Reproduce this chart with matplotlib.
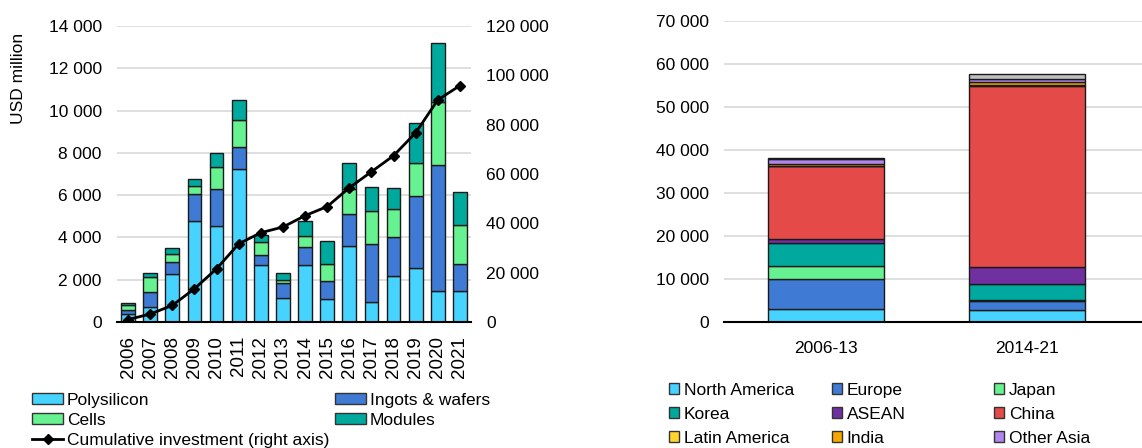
import matplotlib
matplotlib.use("Agg")
import matplotlib.pyplot as plt
import numpy as np
from matplotlib.patches import Patch
from matplotlib.lines import Line2D

plt.rcParams["font.family"] = ["Liberation Sans", "DejaVu Sans"]
plt.rcParams["font.size"] = 12.5

# ---- left panel: investment by segment, USD million ----
years = ["2006", "2007", "2008", "2009", "2010", "2011", "2012", "2013",
         "2014", "2015", "2016", "2017", "2018", "2019", "2020", "2021"]
polysilicon = [400, 720, 2280, 4790, 4540, 7230, 2680, 1150,
               2680, 1090, 3590, 930, 2160, 2540, 1460, 1460]
wafers = [180, 700, 540, 1260, 1740, 1050, 500, 680,
          860, 860, 1540, 2770, 1860, 3430, 5940, 1300]
cells = [240, 690, 380, 380, 1060, 1280, 580, 150,
         550, 790, 1180, 1560, 1300, 1560, 3010, 1820]
modules = [90, 220, 280, 310, 630, 960, 350, 350,
           670, 1100, 1230, 1130, 1030, 1890, 2770, 1550]
cumulative = [1000, 3240, 6750, 13500, 21600, 31700, 36200, 38500,
              43100, 46800, 54400, 60900, 67400, 76700, 90000, 95800]

# ---- right panel: investment by region, USD million ----
periods = ["2006-13", "2014-21"]
regions = ["North America", "Europe", "Japan", "Korea", "ASEAN", "China",
           "Latin America", "India", "Other Asia", "Rest of world"]
region_vals = {
    "North America": [3100, 2800],
    "Europe": [6800, 2100],
    "Japan": [3200, 300],
    "Korea": [5300, 3700],
    "ASEAN": [900, 3900],
    "China": [16900, 42100],
    "Latin America": [100, 300],
    "India": [500, 700],
    "Other Asia": [1100, 500],
    "Rest of world": [300, 1300],
}

seg_colors = {"Polysilicon": "#47D3FF", "Ingots & wafers": "#3F7AD4",
              "Cells": "#67F292", "Modules": "#00A99D"}
reg_colors = {"North America": "#47D3FF", "Europe": "#3F7AD4", "Japan": "#67F292",
              "Korea": "#00A99D", "ASEAN": "#7030A0", "China": "#E34A48",
              "Latin America": "#FFD52E", "India": "#F5A800",
              "Other Asia": "#B085EE", "Rest of world": "#BFBFBF"}
GRID = "#D9D9D9"

fig = plt.figure(figsize=(11.42, 4.48), dpi=100)

# left chart
ax = fig.add_axes([0.1025, 0.2812, 0.3099, 0.661])
x = np.arange(len(years))
bottom = np.zeros(len(years))
segs = [("Polysilicon", polysilicon), ("Ingots & wafers", wafers),
        ("Cells", cells), ("Modules", modules)]
for name, vals in segs:
    ax.bar(x, vals, 0.62, bottom=bottom, color=seg_colors[name],
           edgecolor="#1a1a1a", linewidth=1.0, zorder=2)
    bottom += np.array(vals)
ax.set_xlim(-0.5, len(years) - 0.5)
ax.set_ylim(0, 14000)
ax.set_yticks(range(0, 14001, 2000))
ax.set_yticklabels([f"{v:,}".replace(",", " ") for v in range(0, 14001, 2000)])
ax.set_xticks(x)
ax.set_xticklabels(years, rotation=90, fontsize=13.5)
ax.grid(axis="y", color=GRID, lw=1.2, zorder=0)
for s in ("top", "left", "right"):
    ax.spines[s].set_visible(False)
ax.spines["bottom"].set_linewidth(1.5)
ax.tick_params(axis="y", length=0, pad=11)
ax.tick_params(axis="x", length=0, pad=10)

ax2 = ax.twinx()
ax2.plot(x, cumulative, color="black", lw=2, marker="D", markersize=5, zorder=4)
ax2.set_ylim(0, 120000)
ax2.set_yticks(range(0, 120001, 20000))
ax2.set_yticklabels([f"{v:,}".replace(",", " ") for v in range(0, 120001, 20000)])
ax2.tick_params(axis="y", length=0, pad=11)
for s in ax2.spines.values():
    s.set_visible(False)

fig.text(19 / 1142, 1 - 78 / 448, "USD million", rotation=90,
         ha="center", va="center", fontsize=12.5)

handles = [Patch(facecolor=seg_colors["Polysilicon"], edgecolor="#333333", label="Polysilicon"),
           Patch(facecolor=seg_colors["Cells"], edgecolor="#333333", label="Cells"),
           Line2D([0], [0], color="black", lw=2, marker="D", markersize=5,
                  label="Cumulative investment (right axis)"),
           Patch(facecolor=seg_colors["Ingots & wafers"], edgecolor="#333333", label="Ingots & wafers"),
           Patch(facecolor=seg_colors["Modules"], edgecolor="#333333", label="Modules")]
fig.legend(handles=handles, ncol=2, loc="upper left",
           bbox_to_anchor=(32 / 1142, 1 - 393 / 448), frameon=False,
           handlelength=1.8, handleheight=0.6, handletextpad=0.2,
           columnspacing=0.35, labelspacing=0.28, borderpad=0, borderaxespad=0)

# right chart
bx = fig.add_axes([0.634, 0.2812, 0.366, 0.672])
xp = np.arange(len(periods))
bot = np.zeros(len(periods))
for r in regions:
    vals = np.array(region_vals[r])
    bx.bar(xp, vals, 0.575, bottom=bot, color=reg_colors[r],
           edgecolor="#1a1a1a", linewidth=1.0, zorder=2)
    bot += vals
bx.set_xlim(-0.505, 1.57)
bx.set_ylim(0, 70000)
bx.set_yticks(range(0, 70001, 10000))
bx.set_yticklabels([f"{v:,}".replace(",", " ") for v in range(0, 70001, 10000)])
bx.set_xticks(xp)
bx.set_xticklabels(periods)
bx.grid(axis="y", color=GRID, lw=1.2, zorder=0)
for s in ("top", "left", "right"):
    bx.spines[s].set_visible(False)
bx.spines["bottom"].set_linewidth(1.5)
bx.tick_params(axis="y", length=0, pad=11)
bx.tick_params(axis="x", length=0, pad=14)

# region legend: three fixed-width columns (grey remainder has no entry)
cols = [["North America", "Korea", "Latin America"],
        ["Europe", "ASEAN", "India"],
        ["Japan", "China", "Other Asia"]]
col_x = [669, 832, 994]
for cx, names in zip(col_x, cols):
    hs = [Patch(facecolor=reg_colors[n], edgecolor="#333333", label=n) for n in names]
    fig.legend(handles=hs, loc="upper left",
               bbox_to_anchor=(cx / 1142, 1 - 383 / 448), frameon=False,
               handlelength=0.6, handleheight=0.6, handletextpad=0.25,
               labelspacing=0.52, borderpad=0, borderaxespad=0)

fig.savefig("out.png", dpi=100)
